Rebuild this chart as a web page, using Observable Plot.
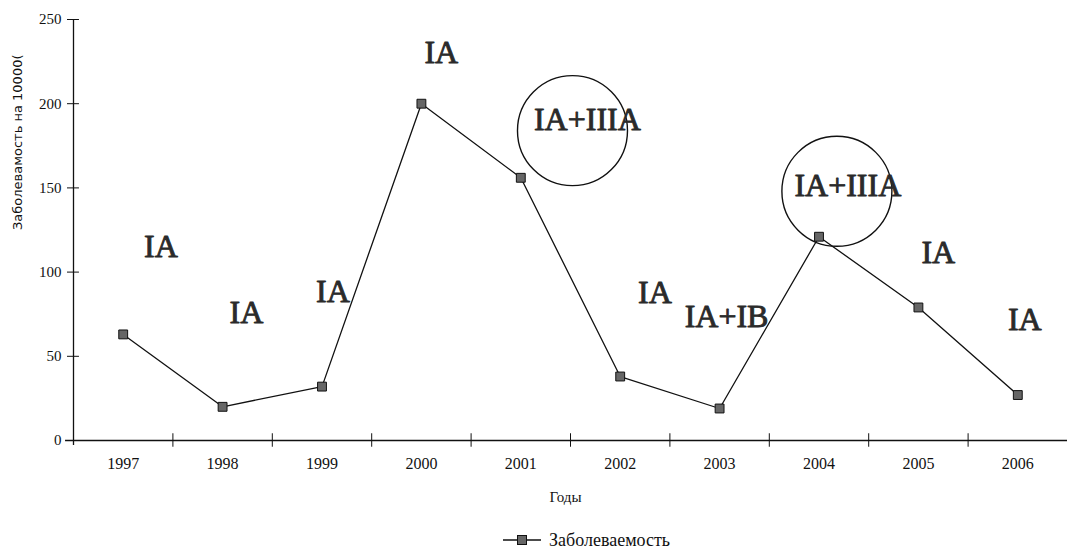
<!DOCTYPE html>
<html>
<head>
<meta charset="utf-8">
<script src="https://cdn.jsdelivr.net/npm/d3@7"></script>
<script src="https://cdn.jsdelivr.net/npm/@observablehq/plot@0.6"></script>
<style>
  html, body { margin: 0; padding: 0; background: #fff; }
  #chart svg { display: block; }
  #legend { height: 40px; display: flex; align-items: center; padding-left: 503px;
    font-family: "Liberation Serif", serif; font-size: 18px; color: #111; }
  #legend svg { margin-right: 8px; }
</style>
</head>
<body>
<div id="chart"></div>
<div id="legend"></div>
<script>
// ---- data ----
const years = [1997, 1998, 1999, 2000, 2001, 2002, 2003, 2004, 2005, 2006];
const values = [63, 20, 32, 200, 156, 38, 19, 121, 79, 27];
const yTicks = [0, 50, 100, 150, 200, 250];

const annLabels = ["IA", "IA", "IA", "IA", "IA+IIIA", "IA", "IA+IB", "IA+IIIA", "IA", "IA"];
const annYears  = [1997.38, 1998.24, 1999.11, 2000.20, 2001.67, 2002.35, 2003.07, 2004.29, 2005.20, 2006.07];
const annValues = [115, 76, 88.5, 230, 190.5, 88, 73.5, 151, 111.5, 72];

const circleYears  = [2001.52, 2004.18];
const circleValues = [184, 148];

const yTitle = "Заболевамость на 10000(";
const xTitle = "Годы";
const seriesName = "Заболеваемость";

// ---- tables ----
const data = years.map((year, i) => ({year, value: values[i]}));
const anns = annLabels.map((label, i) => ({label, year: annYears[i], value: annValues[i]}));
const circles = circleYears.map((year, i) => ({year, value: circleValues[i]}));
const boundaries = years.slice(0, -1).map(y => y + 0.5);

const chart = Plot.plot({
  width: 1067,
  height: 520,
  marginLeft: 73,
  marginRight: 0,
  marginTop: 19,
  marginBottom: 80,
  x: {type: "linear", domain: [1996.5, 2006.5], axis: null},
  y: {domain: [0, 250], axis: null},
  style: {fontFamily: "Liberation Serif, serif", fontSize: "15px", color: "#111", background: "white"},
  marks: [
    // axis lines
    Plot.ruleX([1996.5], {y1: -3, y2: 250, stroke: "#111", strokeWidth: 1.3}),
    Plot.ruleY([0], {x1: 1996.42, x2: 2006.5, stroke: "#111", strokeWidth: 1.3}),
    // y ticks (outward + inward)
    Plot.axisY(yTicks, {tickSize: 6, tickPadding: 6, label: null, fontSize: 15, stroke: "#111"}),
    Plot.ruleY(yTicks, {x1: 1996.5, x2: 1996.56, stroke: "#111"}),
    // x boundary ticks
    Plot.ruleX(boundaries, {y1: -4, y2: 4, stroke: "#111"}),
    // x labels
    Plot.text(years, {x: d => d, frameAnchor: "bottom", dy: 28, text: d => String(d), fontSize: 16, fill: "#111"}),
    // titles
    Plot.text([xTitle], {frameAnchor: "bottom", dy: 61, fontSize: 15, fill: "#111", dx: -5}),
    Plot.text([yTitle], {frameAnchor: "left", dx: -56, rotate: -90, fontSize: 13, fontFamily: "DejaVu Sans, sans-serif", fill: "#111"}),
    // series
    Plot.line(data, {x: "year", y: "value", stroke: "#111", strokeWidth: 1.3}),
    Plot.dot(data, {x: "year", y: "value", symbol: "square", r: 5, fill: "#666", stroke: "#111", strokeWidth: 1}),
    // annotations
    Plot.dot(circles, {x: "year", y: "value", r: 55, fill: "none", stroke: "#111", strokeWidth: 1.4}),
    Plot.text(anns, {x: "year", y: "value", text: "label", fontSize: 32, fontFamily: "Liberation Serif, serif", fill: "#2a2a2a", stroke: "#2a2a2a", strokeWidth: 0.9, paintOrder: "fill"})
  ]
});
document.getElementById("chart").appendChild(chart);

// legend
const leg = document.getElementById("legend");
leg.innerHTML = `<svg width="38" height="12"><line x1="0" y1="6" x2="38" y2="6" stroke="#111" stroke-width="1.3"/><rect x="14.5" y="1.5" width="9" height="9" fill="#666" stroke="#111"/></svg><span>${seriesName}</span>`;
</script>
</body>
</html>
